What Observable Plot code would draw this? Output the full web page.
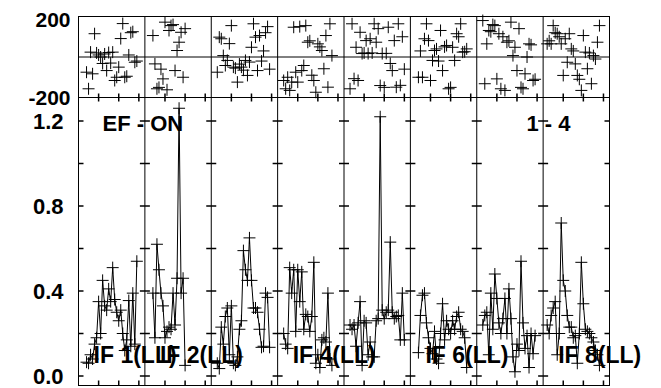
<!DOCTYPE html>
<html><head><meta charset="utf-8">
<script src="https://cdn.jsdelivr.net/npm/d3@7"></script>
<script src="https://cdn.jsdelivr.net/npm/@observablehq/plot@0.6"></script>
<style>
html,body{margin:0;padding:0;background:#fff;}
#chart{position:relative;width:661px;height:388px;overflow:hidden;background:#fff;}
#chart svg{position:absolute;left:0;top:0;background:transparent;overflow:visible;}
</style></head><body><div id="chart"></div>
<script>
// ---- data ----
const ifNumbers = [1, 2, 3, 4, 5, 6, 7, 8];
const labeledIFs = [1, 2, 4, 6, 8];
const polarization = "LL";
const sourceLabel = "EF - ON";
const baselineLabel = "1 - 4";
const startChannel = [4, 4, 3, 3, 3, 4, 3, 2];
const channelsPerIF = 33;
const ampTicks = [0, 0.4, 0.8, 1.2];
const ampMinorTicks = [0, 0.2, 0.4, 0.6, 0.8, 1.0, 1.2];
const phaseTicks = [-200, 200];
const channelTicks = [10, 20, 30];

const amp1 = [0.065, 0.06, 0.1, 0.08, 0.15, 0.18, 0.35, 0.2, 0.45, 0.33, 0.31, 0.41, 0.35, 0.51, 0.36, 0.3, 0.26, 0.31, 0.2, 0.12, 0.17, 0.355, 0.14, 0.39, 0.15, 0.54];
const amp2 = [0.39, 0.18, 0.62, 0.5, 0.39, 0.33, 0.18, 0.21, 0.23, 0.22, 0.39, 0.24, 0.46, 1.26, 0.39, 0.46, 0.05];
const amp3 = [0.06, 0.035, 0.23, 0.15, 0.28, 0.32, 0.1, 0.33, 0.06, 0.05, 0.09, 0.22, 0.26, 0.59, 0.5, 0.45, 0.65, 0.45, 0.32, 0.32, 0.3, 0.22, 0.135, 0.14, 0.39, 0.37, 0.135];
const amp4 = [0.2, 0.15, 0.13, 0.51, 0.39, 0.5, 0.21, 0.5, 0.35, 0.49, 0.22, 0.29, 0.28, 0.21, 0.28, 0.535, 0.06, 0.1, 0.04, 0.17, 0.18, 0.16, 0.39, 0.08, 0.05];
const amp5 = [0.24, 0.22, 0.24, 0.14, 0.25, 0.35, 0.05, 0.26, 0.25, 0.1, 0.16, 0.09, 0.09, 0.26, 0.27, 1.22, 0.31, 0.27, 0.3, 0.31, 0.63, 0.3, 0.27, 0.28, 0.285, 0.17, 0.39, 0.17];
const amp6 = [0.11, 0.285, 0.38, 0.39, 0.25, 0.18, 0.13, 0.105, 0.21, 0.08, 0.06, 0.2, 0.34, 0.17, 0.26, 0.22, 0.2, 0.26, 0.22, 0.28, 0.3, 0.22, 0.21, 0.18, 0.04];
const amp7 = [0.24, 0.285, 0.3, 0.1, 0.39, 0.22, 0.48, 0.365, 0.25, 0.2, 0.27, 0.365, 0.2, 0.41, 0.27, 0.09, 0.02, 0.15, 0.12, 0.54, 0.25, 0.13, 0.19, 0.04, 0.2, 0.105, 0.19];
const amp8 = [0.24, 0.2, 0.285, 0.32, 0.35, 0.1, 0.2, 0.72, 0.45, 0.4, 0.285, 0.23, 0.23, 0.18, 0.19, 0.06, 0.2, 0.535, 0.34, 0.22, 0.21, 0.2, 0.18, 0.16, 0.12, 0.1, 0.05];

const phase1 = [-75, -157, 24, -83, 115, 20, 10, 0, -32, 15, -67, 22, -30, 24, -116, -100, -50, 91, 165, -100, -95, 10, 120, 125, -26, -20];
const phase2 = [106, -34, -157, -150, -60, -108, 172, -162, 131, 155, 160, -67, 32, 73, 122, -100, 140];
const phase3 = [-75, 98, 90, 7, -42, -17, 66, 155, -50, -55, -124, -35, -50, -65, -17, -91, -25, 48, 164, 98, -67, 106, -20, 30, 120, 150, -60];
const phase4 = [-116, -157, -100, -165, -124, 147, -75, -124, 150, -67, -42, 155, 73, 80, -90, -116, -174, 65, 50, 32, -58, 106, -149, 164, 7];
const phase5 = [-157, 164, -107, 48, -116, 122, 17, 20, 81, 17, 90, 20, 164, 73, 140, -141, 17, -150, 18, 147, -32, -67, 81, -149, 164, -140, 100, -60];
const phase6 = [-100, 30, -100, 90, 164, 81, -116, -17, 32, 40, -20, 131, -67, 50, 57, -157, -150, 48, -17, 115, 100, 164, 24, 26, 40];
const phase7 = [180, -132, 65, 131, 125, 160, 155, -108, 115, -157, 100, -165, 73, 80, 172, 7, 48, -67, 140, -150, -157, -83, 0, 65, 60, -116, -110];
const phase8 = [65, 80, 65, 155, 120, 115, 100, 65, -91, 90, -26, 115, 40, 30, -34, -91, -110, -165, 106, 24, -58, 20, -132, 7, -10, 73, 155];

// ---- build table ----
const amps = [amp1, amp2, amp3, amp4, amp5, amp6, amp7, amp8];
const phases = [phase1, phase2, phase3, phase4, phase5, phase6, phase7, phase8];
const rows = [];
ifNumbers.forEach((n, i) => {
  amps[i].forEach((a, j) => {
    const ch = startChannel[i] + j;
    rows.push({if: n, channel: ch, pos: i * channelsPerIF + ch, amp: a, phase: phases[i][j]});
  });
});
const totalX = ifNumbers.length * channelsPerIF;
const separators = ifNumbers.slice(1).map((n, i) => (i + 1) * channelsPerIF);
const xTickPos = ifNumbers.flatMap((n, i) => channelTicks.map(c => i * channelsPerIF + c));

// ---- symbols ----
const plusSym = {draw(c) { c.moveTo(-6, 0); c.lineTo(6, 0); c.moveTo(0, -6); c.lineTo(0, 6); }};
const hBoth = {draw(c) { c.moveTo(-5, 0); c.lineTo(5, 0); }};
const hRight = {draw(c) { c.moveTo(0, 0); c.lineTo(5, 0); }};
const hLeft = {draw(c) { c.moveTo(-5, 0); c.lineTo(0, 0); }};
const vBoth = {draw(c) { c.moveTo(0, -4); c.lineTo(0, 4); }};
const vUp = {draw(c) { c.moveTo(0, 0); c.lineTo(0, -5); }};

const fontFam = "'Liberation Sans', Arial, Helvetica, sans-serif";
const W = 661, H = 388;
const common = {
  width: W, height: H, marginLeft: 78, marginRight: 52,
  x: {domain: [0, totalX], axis: null},
  style: {fontFamily: fontFam, fontSize: "22px", fontWeight: "bold", color: "#000", background: "transparent", overflow: "visible"}
};

// top: phase panel
const phasePlot = Plot.plot({
  ...common,
  marginTop: 16, marginBottom: H - 97,
  y: {domain: phaseTicks, label: null},
  marks: [
    Plot.ruleY([0], {stroke: "#000"}),
    Plot.ruleX(separators, {stroke: "#000"}),
    Plot.dot(rows, {x: "pos", y: "phase", symbol: plusSym, fill: "none", stroke: "#000", strokeWidth: 1}),
    Plot.frame({stroke: "#000"}),
    Plot.axisY([phaseTicks[1]], {label: null, tickSize: 0, tickPadding: 8, dy: 3.5, fontSize: 21, tickFormat: d => String(d)}),
    Plot.axisY([phaseTicks[0]], {label: null, tickSize: 0, tickPadding: 8, dy: 0.5, fontSize: 21, tickFormat: d => String(d)})
  ]
});

// bottom: amplitude panel
const edgeTicks = (edge) => ampMinorTicks.map(v => ({x: edge, y: v}));
const sepTicks = separators.flatMap(s => ampMinorTicks.map(v => ({x: s, y: v})));
const ampPlot = Plot.plot({
  ...common,
  marginTop: 97, marginBottom: 3,
  y: {domain: [-0.0447, 1.3106], label: null},
  marks: [
    Plot.line(rows, {x: "pos", y: "amp", z: "if", stroke: "#000", strokeWidth: 1}),
    Plot.dot(rows, {x: "pos", y: "amp", symbol: plusSym, fill: "none", stroke: "#000", strokeWidth: 1}),
    Plot.ruleX(separators, {stroke: "#000"}),
    Plot.frame({stroke: "#000"}),
    Plot.dot(edgeTicks(0), {x: "x", y: "y", symbol: hRight, fill: "none", stroke: "#000"}),
    Plot.dot(edgeTicks(totalX), {x: "x", y: "y", symbol: hLeft, fill: "none", stroke: "#000"}),
    Plot.dot(sepTicks, {x: "x", y: "y", symbol: hBoth, fill: "none", stroke: "#000"}),
    Plot.dot(xTickPos, {x: d => d, frameAnchor: "top", symbol: vBoth, fill: "none", stroke: "#000"}),
    Plot.dot(xTickPos, {x: d => d, frameAnchor: "bottom", symbol: vUp, fill: "none", stroke: "#000"}),
    Plot.axisY(ampTicks, {label: null, tickSize: 0, tickPadding: 15, dy: 1, tickFormat: d3.format(".1f"), fontSize: 22}),
    Plot.text([sourceLabel], {frameAnchor: "top-left", dx: 24, dy: 26, textAnchor: "start", lineAnchor: "middle", fontSize: 22, fontWeight: "bold", fill: "#000"}),
    Plot.text([baselineLabel], {frameAnchor: "top-right", dx: -39, dy: 26, textAnchor: "end", lineAnchor: "middle", fontSize: 22, fontWeight: "bold", fill: "#000"}),
    Plot.text(labeledIFs, {x: n => (n - 1) * channelsPerIF + 7.5, frameAnchor: "bottom", dy: -29.5, text: n => `IF ${n}(${polarization})`, textAnchor: "start", lineAnchor: "middle", fontSize: 23, fontWeight: "bold", fill: "#000"})
  ]
});

const chart = document.getElementById("chart");
chart.appendChild(phasePlot);
chart.appendChild(ampPlot);
</script>
</body></html>
